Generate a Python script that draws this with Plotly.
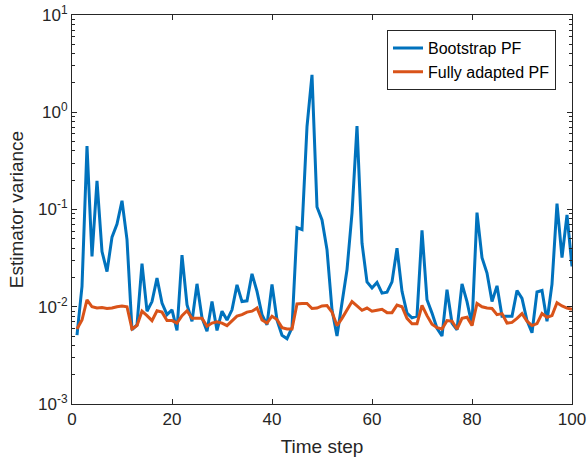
import plotly.graph_objects as go

# Datos (t = 1..100)
tiempo = list(range(1, 101))

var_bootstrap = [
    0.0051, 0.0162, 0.45, 0.033, 0.197, 0.037, 0.023, 0.052, 0.071, 0.123,
    0.049, 0.0058, 0.0065, 0.0277, 0.0090, 0.0113, 0.0197, 0.0109, 0.0083, 0.0093,
    0.0057, 0.034, 0.0105, 0.0071, 0.0172, 0.0077, 0.0056, 0.0113, 0.0057, 0.0090,
    0.0073, 0.0093, 0.0168, 0.0113, 0.0115, 0.0218, 0.0144, 0.0083, 0.0065, 0.0170,
    0.0073, 0.0051, 0.0047, 0.0061, 0.065, 0.062, 0.71, 2.42, 0.106, 0.078,
    0.0386, 0.0093, 0.0050, 0.0105, 0.024, 0.092, 0.72, 0.045, 0.018, 0.0156,
    0.0178, 0.0138, 0.0141, 0.018, 0.040, 0.0144, 0.0086, 0.0077, 0.0080, 0.061,
    0.0118, 0.0086, 0.0060, 0.0050, 0.015, 0.0068, 0.0058, 0.0172, 0.0113, 0.0065,
    0.093, 0.032, 0.0222, 0.0113, 0.0164, 0.0080, 0.0080, 0.0080, 0.0147, 0.0122,
    0.0072, 0.0054, 0.0142, 0.0147, 0.0071, 0.0171, 0.115, 0.032, 0.088, 0.026,
]

var_adaptado = [
    0.0059, 0.0073, 0.0118, 0.0100, 0.0097, 0.0098, 0.0096, 0.0097, 0.0100, 0.0102,
    0.0100, 0.0059, 0.0064, 0.0090, 0.0081, 0.0072, 0.0091, 0.0088, 0.0072, 0.0072,
    0.0068, 0.0081, 0.0091, 0.0076, 0.0076, 0.0076, 0.0063, 0.0068, 0.0070, 0.0068,
    0.0064, 0.0072, 0.0080, 0.0083, 0.0088, 0.0090, 0.0097, 0.0073, 0.0068, 0.0080,
    0.0074, 0.0061, 0.0059, 0.0059, 0.0107, 0.0108, 0.0108, 0.0096, 0.0097, 0.0102,
    0.0103, 0.0088, 0.0064, 0.0076, 0.0094, 0.0113, 0.0102, 0.0092, 0.0097, 0.0090,
    0.0092, 0.0094, 0.0087, 0.0087, 0.0104, 0.0100, 0.0076, 0.0067, 0.0067, 0.0103,
    0.0081, 0.0066, 0.0061, 0.0059, 0.0072, 0.0071, 0.0059, 0.0076, 0.0078, 0.0064,
    0.0108, 0.0100, 0.0097, 0.0096, 0.0083, 0.0085, 0.0068, 0.0069, 0.0076, 0.0085,
    0.0071, 0.0064, 0.0067, 0.0085, 0.0078, 0.0081, 0.0110, 0.0102, 0.0097, 0.0094,
]

ticks_x = [0, 20, 40, 60, 80, 100]
exponentes_y = [-3, -2, -1, 0, 1]
ticks_y = [10.0 ** e for e in exponentes_y]
etiquetas_y = [f"10<sup>{e}</sup>" for e in exponentes_y]
# Ticks menores del eje logarítmico (2..9 de cada década)
ticks_menores_y = [m * 10.0 ** e for e in exponentes_y[:-1] for m in range(2, 10)]

AZUL = "#0072BD"
NARANJA = "#D95319"
EJE = "#262626"

fig = go.Figure()

fig.add_trace(go.Scatter(
    x=tiempo, y=var_bootstrap, mode='lines', name='Bootstrap PF',
    line=dict(color=AZUL, width=3)
))
fig.add_trace(go.Scatter(
    x=tiempo, y=var_adaptado, mode='lines', name='Fully adapted PF',
    line=dict(color=NARANJA, width=3)
))

ejes_comunes = dict(
    showline=True, linecolor=EJE, linewidth=1, mirror='ticks',
    ticks='inside', tickcolor=EJE, ticklen=5, showgrid=False, zeroline=False,
    tickfont=dict(size=17, color=EJE), automargin=False,
)

fig.update_xaxes(
    range=[0, 100], tickmode='array', tickvals=ticks_x,
    title=dict(text='Time step', font=dict(size=19, color=EJE), standoff=11),
    **ejes_comunes
)
fig.update_yaxes(
    type='log', range=[-3, 1], tickmode='array',
    tickvals=ticks_y, ticktext=etiquetas_y,
    minor=dict(tickmode='array', tickvals=ticks_menores_y, ticks='inside',
               ticklen=3, tickcolor=EJE, showgrid=False),
    title=dict(text='Estimator variance', font=dict(size=19, color=EJE), standoff=9),
    **ejes_comunes
)

fig.update_layout(
    width=587, height=460,
    margin=dict(l=72, r=15, t=15, b=56),
    plot_bgcolor='white', paper_bgcolor='white',
    font=dict(family='Liberation Sans, Arial, sans-serif', color=EJE),
    legend=dict(
        x=0.968, y=0.961, xanchor='right', yanchor='top',
        bgcolor='white', bordercolor=EJE, borderwidth=1,
        font=dict(size=16, color='black'),
        tracegroupgap=0,
    ),
    showlegend=True,
)

# Quitar el margen por defecto del <body> para que la figura empiece en (0, 0)
fig.write_html("out.html", config={'displayModeBar': False},
               post_script="document.body.style.margin = '0';")
